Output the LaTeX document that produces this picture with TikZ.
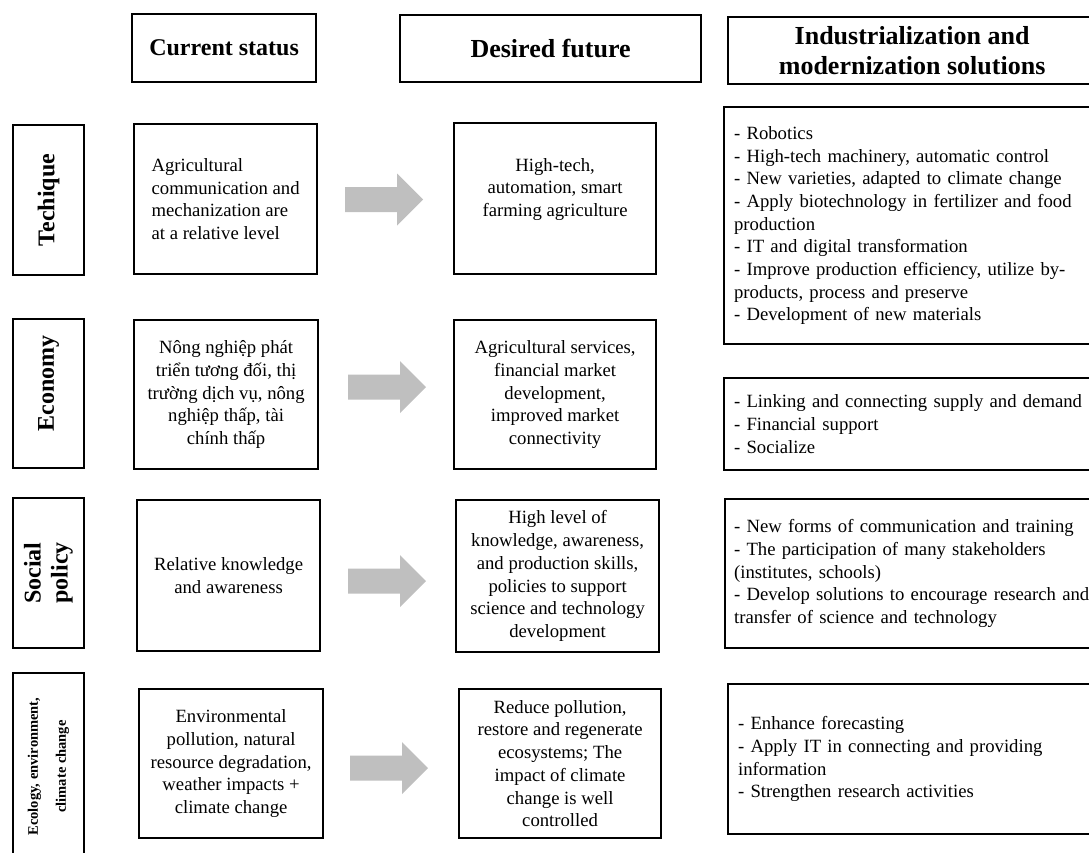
\documentclass[tikz,border=0pt]{standalone}
\usepackage{fontspec}
\setmainfont{Liberation Serif}
\newcommand\bodyfont{\fontsize{18.7}{22.7}\selectfont}
\begin{document}
\begin{tikzpicture}[x=1pt,y=-1pt,
  box/.style={draw=black, line width=2.2pt, inner sep=0pt, font=\bodyfont, text=black, anchor=north west},
  hdr/.style={box, align=center},
  lbl/.style={draw=black, line width=2.2pt, inner sep=0pt, rotate=90, minimum height=71pt, align=center, font=\fontsize{24}{27}\selectfont\bfseries},
  sol/.style={box, align=left, inner xsep=10pt, text width=370pt},
  grayarrow/.pic={\fill[black!25] (0,-12.5) -- (52,-12.5) -- (52,-26) -- (78,0) -- (52,26) -- (52,12.5) -- (0,12.5) -- cycle;}
]
\useasboundingbox (0,0) rectangle (1089,852);
\clip (0,0) rectangle (1089,852);

% headers
\node[hdr, minimum width=184pt, minimum height=68pt, font=\fontsize{24}{28}\selectfont\bfseries] (hcur) at (131,13) {Current status};
\node[hdr, minimum width=301pt, minimum height=67pt, font=\fontsize{26}{30}\selectfont\bfseries] (hfut) at (399,14) {Desired future};
\node[hdr, minimum width=368pt, minimum height=67pt, font=\fontsize{26}{30}\selectfont\bfseries] (hsol) at (727,16) {Industrialization and\\modernization solutions};

% row labels
\node[lbl, minimum width=150pt] (ltech) at (48.5,200) {Techique};
\node[lbl, minimum width=149pt] (lecon) at (48.5,393.5) {\hspace*{20pt}Economy};
\node[lbl, minimum width=150pt] (lsoc) at (48.5,573) {Social\\policy};
\node[lbl, minimum width=187pt, font=\fontsize{14.5}{28}\selectfont\bfseries] (lenv) at (48.5,766.5) {Ecology, environment,\\climate change};

% current status
\node[box, align=left, minimum width=183pt, minimum height=150pt] (c1) at (133,123) {Agricultural\\communication and\\mechanization are\\at a relative level};
\node[box, align=center, minimum width=184pt, minimum height=149pt] (c2) at (133,319) {Nông nghiệp phát\\triển tương đối, thị\\trường dịch vụ, nông\\nghiệp thấp, tài\\chính thấp};
\node[box, align=center, minimum width=183pt, minimum height=151pt] (c3) at (136,499) {Relative knowledge\\and awareness};
\node[box, align=center, minimum width=184pt, minimum height=149pt] (c4) at (138,688) {Environmental\\pollution, natural\\resource degradation,\\weather impacts +\\climate change};

% arrows
\pic at (345,199.5) {grayarrow};
\pic at (348,387) {grayarrow};
\pic at (348,581) {grayarrow};
\pic at (350,768) {grayarrow};

% desired future
\node[box, align=center, minimum width=202pt, minimum height=151pt] (d1) at (453,122) {High-tech,\\automation, smart\\farming agriculture\\\mbox{}};
\node[box, align=center, minimum width=202pt, minimum height=149pt] (d2) at (453,319) {Agricultural services,\\financial market\\development,\\improved market\\connectivity};
\node[box, align=center, minimum width=203pt, minimum height=152pt] (d3) at (455,499) {High level of\\knowledge, awareness,\\and production skills,\\policies to support\\science and technology\\development};
\node[box, align=center, minimum width=202pt, minimum height=149pt] (d4) at (458,688) {Reduce pollution,\\restore and regenerate\\ecosystems; The\\impact of climate\\change is well\\controlled};

% solutions
\node[sol, minimum height=237pt] (s1) at (723,106) {- Robotics\\- High-tech machinery, automatic control\\- New varieties, adapted to climate change\\- Apply biotechnology in fertilizer and food\\production\\- IT and digital transformation\\- Improve production efficiency, utilize by-\\products, process and preserve\\- Development of new materials};
\node[sol, minimum height=92pt] (s2) at (723,377) {- Linking and connecting supply and demand\\- Financial support\\- Socialize};
\node[sol, minimum height=149pt, inner xsep=9pt] (s3) at (724,498) {- New forms of communication and training\\- The participation of many stakeholders\\(institutes, schools)\\- Develop solutions to encourage research and\\transfer of science and technology};
\node[sol, minimum height=150pt] (s4) at (727,683) {- Enhance forecasting\\- Apply IT in connecting and providing\\information\\- Strengthen research activities};
\end{tikzpicture}
\end{document}
